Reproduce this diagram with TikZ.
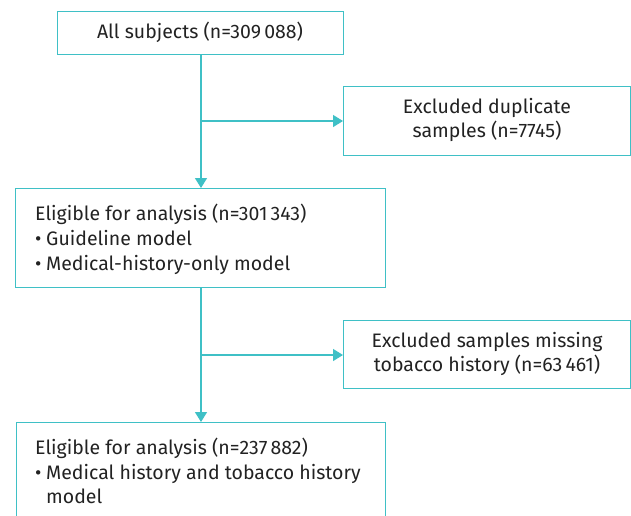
\documentclass[tikz,border=0pt]{standalone}
\usepackage{fontspec}
\setmainfont{Fira Sans}
\usetikzlibrary{arrows.meta,positioning}
\definecolor{teal1}{HTML}{3FC0C6}
\definecolor{txt}{HTML}{222222}
\tikzset{
  box/.style={draw=teal1, line width=1.4pt, rectangle, inner sep=0pt, anchor=north west},
  lbl/.style={text=txt, font=\fontsize{19.5}{24}\selectfont, inner sep=0pt},
  lc/.style={lbl, anchor=base},
  ll/.style={lbl, anchor=base west},
  conn/.style={draw=teal1, line width=1.4pt, -{Triangle[width=12pt,length=10pt]}},
  plain/.style={draw=teal1, line width=1.4pt}
}
\newcommand{\bul}{\makebox[11pt][l]{\textbullet}}
\begin{document}
\begin{tikzpicture}[x=1pt,y=-1pt]
\useasboundingbox (0,0) rectangle (631,515);
\clip (0,0) rectangle (631,515);
% boxes
\node[box, minimum width=286pt, minimum height=43pt] (b1) at (57,11) {};
\node[box, minimum width=287pt, minimum height=69pt] (b2) at (343,86) {};
\node[box, minimum width=370pt, minimum height=99pt] (b3) at (15,188) {};
\node[box, minimum width=287pt, minimum height=68pt] (b4) at (343,320) {};
\node[box, minimum width=369pt, minimum height=120pt] (b5) at (16,422) {};
% texts
\node[lc] (t1) at (200,38.5) {All subjects (n=309\,088)};
\node[lc] (t2a) at (487,113) {Excluded duplicate};
\node[lc] (t2b) at (487,137.5) {samples (n=7745)};
\node[ll] (t3a) at (35,220.5) {Eligible for analysis (n=301\,343)};
\node[ll] (t3b) at (35,245.5) {\bul Guideline model};
\node[ll] (t3c) at (35,270.5) {\bul Medical-history-only model};
\node[lc] (t4a) at (487,347) {Excluded samples missing};
\node[lc] (t4b) at (487,371.5) {tobacco history (n=63\,461)};
\node[ll] (t5a) at (35,454.5) {Eligible for analysis (n=237\,882)};
\node[ll] (t5b) at (35,479) {\bul Medical history and tobacco history};
\node[ll] (t5c) at (46,503) {model};
% connectors
\coordinate (j1) at (201,121);
\coordinate (j2) at (201,355);
\draw[plain] (b1.south -| j1) -- (j1);
\draw[conn] (j1) -- (b3.north -| j1);
\draw[conn] (j1) -- (b2.west |- j1);
\draw[plain] (b3.south -| j2) -- (j2);
\draw[conn] (j2) -- (b5.north -| j2);
\draw[conn] (j2) -- (b4.west |- j2);
\end{tikzpicture}
\end{document}
